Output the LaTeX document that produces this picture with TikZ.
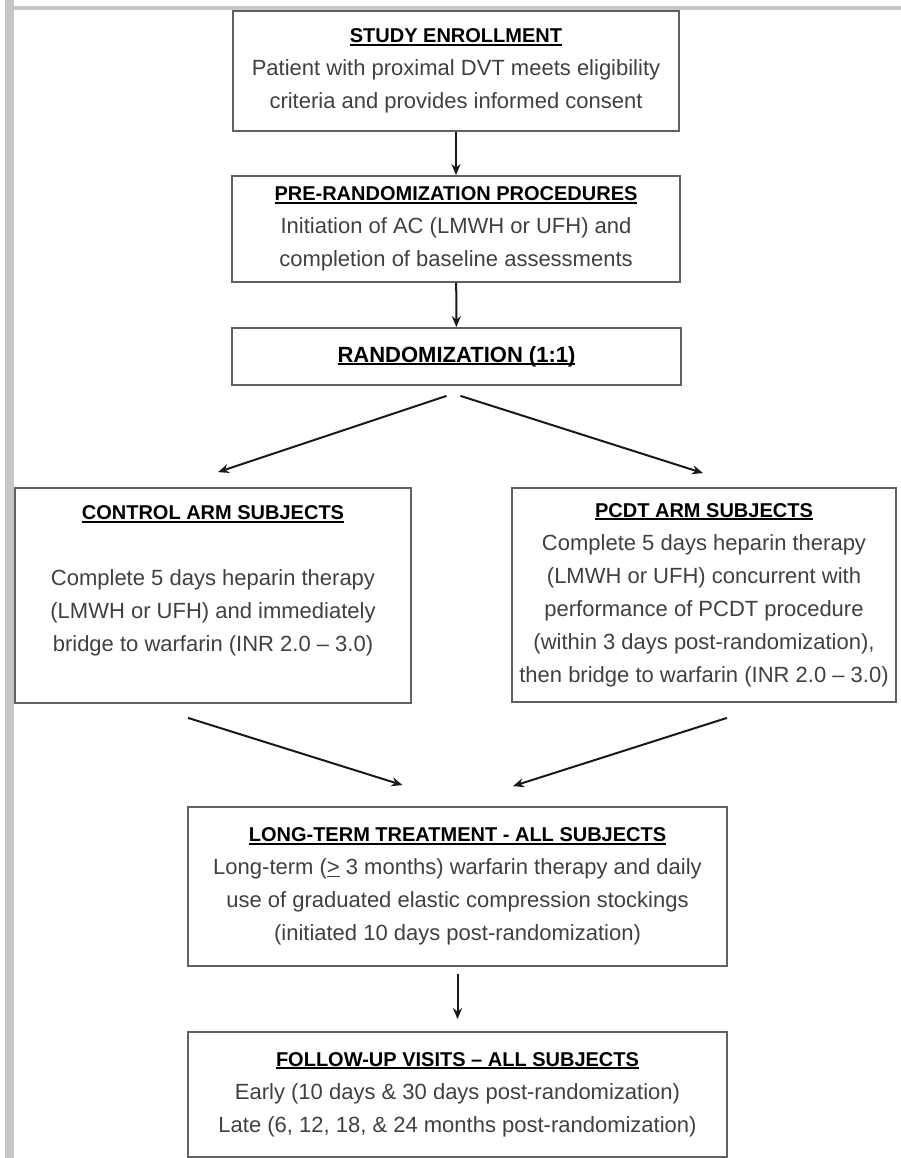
\documentclass[tikz,border=0pt]{standalone}
\usepackage{fontspec}
\setmainfont{Liberation Sans}
\usetikzlibrary{arrows.meta,calc}
\tikzset{
    box color/.style={black!62},
    body color/.style={black!78},
    frame color/.style={black!22},
    box/.style={draw=black!62,line width=1.8pt,inner sep=0pt,align=center,
        text=black!75,font=\fontsize{22}{33}\selectfont},
    arr/.style={-{Stealth[length=11pt,width=9pt]},line width=2pt,black!90},
}
\newcommand{\boxtitle}[2][20]{{\fontsize{#1}{33}\selectfont\bfseries\color{black}%
    \setbox0=\hbox{#2}\rlap{\rule[-3pt]{\wd0}{1.8pt}}\box0}}

\begin{document}
\begin{tikzpicture}[x=1pt,y=-1pt]
        \useasboundingbox (0,0) rectangle (901,1158);
        \fill[frame color] (5,0) rectangle (14,1158);
        \fill[frame color] (5,6) rectangle (901,10);

        \node[box,minimum width=446,minimum height=120] (enroll box) at (456,71)
            {\boxtitle{STUDY ENROLLMENT}\\
             Patient with proximal DVT meets eligibility\\
             criteria and provides informed consent};
        \node[box,minimum width=448,minimum height=106] (prerand box) at (456,229)
            {\boxtitle{PRE-RANDOMIZATION PROCEDURES}\\
             Initiation of AC (LMWH or UFH) and\\
             completion of baseline assessments};
        \node[box,minimum width=449,minimum height=57] (rand box) at (456.5,356.5)
            {\boxtitle[22]{RANDOMIZATION (1:1)}};
        \node[box,minimum width=396,minimum height=215] (control box) at (213,595.5)
            {\boxtitle{CONTROL ARM SUBJECTS}\\ \mbox{}\\
             Complete 5 days heparin therapy\\
             (LMWH or UFH) and immediately\\
             bridge to warfarin (INR 2.0 – 3.0)\\ \mbox{}};
        \node[box,minimum width=384,minimum height=214] (pcdt box) at (704,595)
            {\boxtitle{PCDT ARM SUBJECTS}\\
             Complete 5 days heparin therapy\\
             (LMWH or UFH) concurrent with\\
             performance of PCDT procedure\\
             (within 3 days post-randomization),\\
             then bridge to warfarin (INR 2.0 – 3.0)};
        \node[box,minimum width=539,minimum height=159] (longterm box) at (457.5,886.5)
            {\boxtitle{LONG-TERM TREATMENT - ALL SUBJECTS}\\
             Long-term (\underline{>} 3 months) warfarin therapy and daily\\
             use of graduated elastic compression stockings\\
             (initiated 10 days post-randomization)};
        \node[box,minimum width=539,minimum height=125] (followup box) at (457.5,1094.5)
            {\boxtitle{FOLLOW-UP VISITS – ALL SUBJECTS}\\
             Early (10 days \& 30 days post-randomization)\\
             Late (6, 12, 18, \& 24 months post-randomization)};

        % loose arrow ends
        \coordinate (rand left)  at ($(rand box.south)+(-10,10)$);
        \coordinate (rand right) at ($(rand box.south)+(4,10)$);
        \coordinate (control top) at ($(control box.north)+(5,-15)$);
        \coordinate (pcdt top)    at ($(pcdt box.north)+(-1,-14)$);
        \coordinate (control low) at ($(control box.south)+(-25,14)$);
        \coordinate (pcdt low)    at ($(pcdt box.south)+(23,15)$);
        \coordinate (longterm left)  at ($(longterm box.north)+(-55,-21)$);
        \coordinate (longterm right) at ($(longterm box.north)+(55.5,-20)$);
        \coordinate (longterm low) at ($(longterm box.south)+(0,7)$);
        \coordinate (followup top) at ($(followup box.north)+(0,-12)$);

        \draw[arr] (enroll box) -- (prerand box);
        \draw[arr] (prerand box) -- (rand box);
        \draw[arr] (rand left) -- (control top);
        \draw[arr] (rand right) -- (pcdt top);
        \draw[arr] (control low) -- (longterm left);
        \draw[arr] (pcdt low) -- (longterm right);
        \draw[arr] (longterm low) -- (followup top);
    \end{tikzpicture}
\end{document}
